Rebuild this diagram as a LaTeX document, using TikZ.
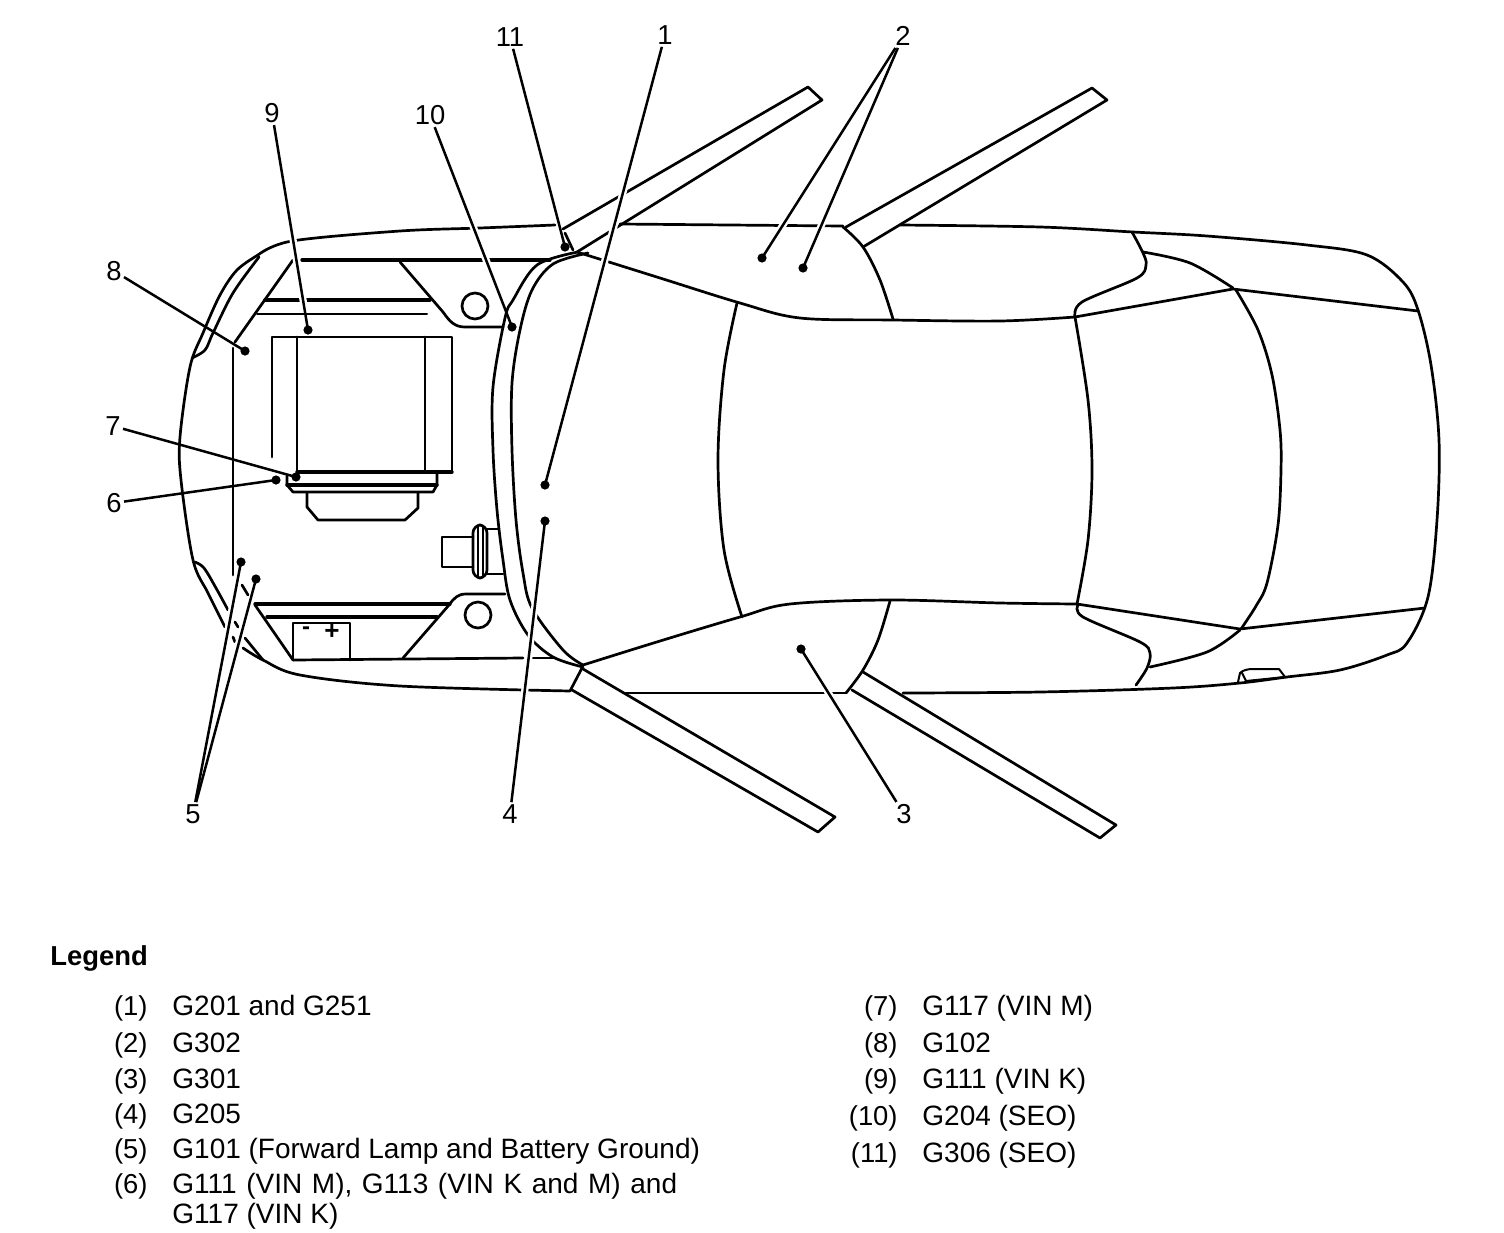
\documentclass[tikz,border=0pt]{standalone}
\usepackage{fontspec}
\setmainfont{Liberation Sans}
\tikzset{
  x=0.5pt,y=-0.5pt,
  car/.style={line width=1.35pt,line cap=round,line join=round},
  thin car/.style={line width=1pt,line cap=round,line join=round},
  thick car/.style={line width=1.7pt,line cap=round,line join=round},
  leader/.style={line width=1.25pt,shorten >=-1pt},
  halo/.style={line width=3.6pt,white},
  gdot/.style={circle,fill=black,inner sep=0pt,minimum size=4.6pt},
  num/.style={font=\fontsize{13.7}{16}\selectfont,inner sep=1pt},
  legtext/.style={font=\fontsize{14}{16}\selectfont,anchor=base west,inner sep=0pt},
  legnum/.style={font=\fontsize{13.7}{16}\selectfont,anchor=base east,inner sep=0pt},
  sm/.style={smooth,tension=0.55}
}
\begin{document}
\begin{tikzpicture}
\useasboundingbox[fill=white] (0,0) rectangle (1504,1232);
% body outline, broken where the doors open
\draw[car] plot[sm] coordinates {(258,255)(292,241)(400,231)(480,228)(555,225)};
\draw[car] plot[sm] coordinates {(620,224)(730,225)(843,226)};
\draw[car] plot[sm] coordinates {(900,225)(1040,227)(1133,232)(1207,236)(1307,245)(1367,255)(1403,282)(1418,310)(1431,365)(1439,440)(1437,520)(1428,597)(1407,643)(1387,655)(1340,670)(1287,677)(1240,683)(1173,688)(1040,692)(903,693)};
\draw[car] (845,693) -- (623,693);
\draw[car] plot[sm] coordinates {(570,691)(400,686)(300,675)(263,660)(243,648)};
% front bumper
\draw[car] plot[sm] coordinates {(258,255)(237,270)(220,295)(203,333)(190,367)(180,437)(181,480)(193,560)(208,593)(225,627)};
\draw[car] plot[sm] coordinates {(259,257)(233,293)(213,333)(205,350)(192,358)};
\draw[car] plot[sm] coordinates {(195,562)(204,568)(216,588)(228,610)};
% hood
\draw[car] (293,260) -- (235,342);
\draw[car] (233,348) -- (233,575);
\draw[car] (242,585) -- (248,595);
\draw[car] (235,622) -- (238,627);
\draw[car] (233,637) -- (235,642);
\draw[car] (245,638) -- (263,660);
\draw[thick car] (302,260) -- (550,260);
\draw[thick car] (265,300) -- (430,300);
\draw[thin car] (257,314) -- (427,314);
\draw[car] (400,262) -- (443,312) .. controls (450,322) and (455,327) .. (465,327) -- (503,327);
\draw[car] (475,306) circle[radius=6.5pt];
% engine
\draw[car] (272,457) -- (272,337) -- (452,337) -- (452,472);
\draw[car] (297,337) -- (297,472);
\draw[car] (425,337) -- (425,472);
\draw[thick car] (297,472) -- (452,472);
\draw[car] (287,476) -- (287,485) -- (293,492) -- (433,492) -- (437,485) -- (437,473);
\draw[thick car] (287,485) -- (437,485);
\draw[car] (307,493) -- (307,507) -- (318,520) -- (405,520) -- (418,508) -- (418,493);
% connector
\draw[car] (473,537) -- (442,537) -- (442,567) -- (473,567);
\draw[car,rounded corners=4pt] (473,578) rectangle (487,525);
\draw[car] (478,526) -- (478,577);
\draw[car] (483,526) -- (483,577);
\draw[car] (487,529) -- (498,529);
\draw[car] (487,574) -- (503,574);
% battery tray
\draw[thick car] (255,604) -- (450,604);
\draw[thick car] (267,617) -- (437,617);
\draw[car] (255,605) -- (293,660);
\draw[car] (293,660) -- (523,658);
\draw[car] (533,658) -- (553,658);
\draw[car] (293,660) -- (293,623) -- (350,623) -- (350,660);
\node[font=\bfseries\fontsize{12}{14}\selectfont,inner sep=0pt] (minus) at (306,631) {-};
\node[font=\bfseries\fontsize{13}{14}\selectfont,inner sep=0pt] (plus) at (332,632) {+};
\draw[car] (403,658) -- (449,605) .. controls (454,598) and (458,594) .. (466,594) -- (505,594);
\draw[car] (478,615) circle[radius=6.5pt];
% cowl and windshield
\draw[car] plot[sm] coordinates {(578,252)(537,265)(513,300)(505,318)(493,387)(493,450)(497,510)(503,560)(510,600)(528,635)(553,657)(583,667)};
\draw[car] plot[sm] coordinates {(588,253)(553,264)(532,290)(520,330)(512,383)(512,450)(516,520)(523,573)(532,608)(563,650)(583,665)};
% belt lines
\draw[car] plot[sm] coordinates {(577,252)(660,278)(740,303)(800,318)(893,320)(1000,321)(1075,317)};
\draw[car] (1075,317) -- (1233,289) -- (1418,311);
\draw[car] plot[sm] coordinates {(583,665)(660,641)(740,617)(790,604)(890,600)(1000,603)(1077,604)};
\draw[car] (1077,604) -- (1240,629) -- (1425,608);
% cabin
\draw[car] plot[sm] coordinates {(737,303)(724,370)(718,460)(724,550)(742,617)};
\draw[car] plot[sm] coordinates {(843,227)(863,247)(880,280)(893,319)};
\draw[car] plot[sm] coordinates {(846,693)(863,670)(878,640)(890,601)};
\draw[car] plot[sm] coordinates {(1075,317)(1088,400)(1092,470)(1088,540)(1077,604)};
\draw[car] plot[sm] coordinates {(1236,290)(1258,330)(1272,375)(1280,430)(1281,470)(1278,525)(1267,583)(1256,606)(1241,629)};
% rear quarter
\draw[car] plot[sm] coordinates {(1132,232)(1143,253)(1146,265)(1137,278)(1082,302)(1075,317)};
\draw[car] plot[sm] coordinates {(1143,252)(1190,263)(1233,288)};
\draw[car] plot[sm] coordinates {(1078,605)(1083,617)(1140,642)(1150,653)(1147,668)(1136,685)};
\draw[car] plot[sm] coordinates {(1150,667)(1207,652)(1240,630)};
% fuel door
\draw[thin car] (1238,682) -- (1240,673) .. controls (1243,670) and (1248,669) .. (1253,669) -- (1279,669) -- (1285,677) -- (1246,681) -- (1242,673);
% open doors
\draw[car] (563,229) -- (808,87) -- (822,100) -- (577,252);
\draw[car] (565,233) -- (573,250);
\draw[car] (846,227) -- (1092,88) -- (1107,100) -- (863,247);
\draw[car] (572,690) -- (818,832) -- (835,817) -- (583,669);
\draw[car] (570,691) -- (582,668);
\draw[car] (852,690) -- (1100,838) -- (1116,825) -- (863,672);
% ground points
\node[gdot] (d1) at (545,485) {};
\node[gdot] (d2a) at (762,258) {};
\node[gdot] (d2b) at (803,268) {};
\node[gdot] (d3) at (801,649) {};
\node[gdot] (d4) at (545,521) {};
\node[gdot] (d5a) at (241,562) {};
\node[gdot] (d5b) at (256,579) {};
\node[gdot] (d6) at (276,480) {};
\node[gdot] (d7) at (296,477) {};
\node[gdot] (d8) at (245,351) {};
\node[gdot] (d9) at (308,330) {};
\node[gdot] (d10) at (512,327) {};
\node[gdot] (d11) at (565,247) {};
% labels
\node[num] (l1) at (665,35) {1};
\node[num] (l2) at (903,36) {2};
\node[num] (l3) at (904,814) {3};
\node[num] (l4) at (510,814) {4};
\node[num] (l5) at (193,814) {5};
\node[num] (l6) at (114,503) {6};
\node[num] (l7) at (113,426) {7};
\node[num] (l8) at (114,271) {8};
\node[num] (l9) at (272,113) {9};
\node[num] (l10) at (430,115) {10};
\node[num] (l11) at (510,37) {11};
% leaders
\foreach \a/\b in {l1/d1,l2/d2a,l2/d2b,l3/d3,l4/d4,l5/d5a,l5/d5b,l9/d9,l10/d10}{
  \path[draw,halo,shorten >=9pt,shorten <=4pt] (\a) -- (\b);
}
\foreach \a/\b in {l1/d1,l2/d2a,l2/d2b,l3/d3,l4/d4,l5/d5a,l5/d5b,l6/d6,l7/d7,l8/d8,l9/d9,l10/d10,l11/d11}{
  \draw[leader] (\a) -- (\b);
}
% legend
\node[font=\bfseries\fontsize{13.7}{16}\selectfont,anchor=base west,inner sep=0pt] (legend) at (50,965) {Legend};
\node[legnum] (n1) at (148,1015) {(1)}; \node[legtext] (t1) at (172,1015) {G201 and G251};
\node[legnum] (n2) at (148,1052) {(2)}; \node[legtext] (t2) at (172,1052) {G302};
\node[legnum] (n3) at (148,1088) {(3)}; \node[legtext] (t3) at (172,1088) {G301};
\node[legnum] (n4) at (148,1123) {(4)}; \node[legtext] (t4) at (172,1123) {G205};
\node[legnum] (n5) at (148,1158) {(5)}; \node[legtext] (t5) at (172,1158) {G101 (Forward Lamp and Battery Ground)};
\node[legnum] (n6) at (148,1193) {(6)}; \node[legtext] (t6) at (172,1193) {\spaceskip=4.8pt G111 (VIN M), G113 (VIN K and M) and};
\node[legtext] (t6b) at (172,1223) {G117 (VIN K)};
\node[legnum] (n7) at (898,1015) {(7)}; \node[legtext] (t7) at (922,1015) {G117 (VIN M)};
\node[legnum] (n8) at (898,1052) {(8)}; \node[legtext] (t8) at (922,1052) {G102};
\node[legnum] (n9) at (898,1088) {(9)}; \node[legtext] (t9) at (922,1088) {G111 (VIN K)};
\node[legnum] (n10) at (898,1125) {(10)}; \node[legtext] (t10) at (922,1125) {G204 (SEO)};
\node[legnum] (n11) at (898,1162) {(11)}; \node[legtext] (t11) at (922,1162) {G306 (SEO)};
\end{tikzpicture}
\end{document}
